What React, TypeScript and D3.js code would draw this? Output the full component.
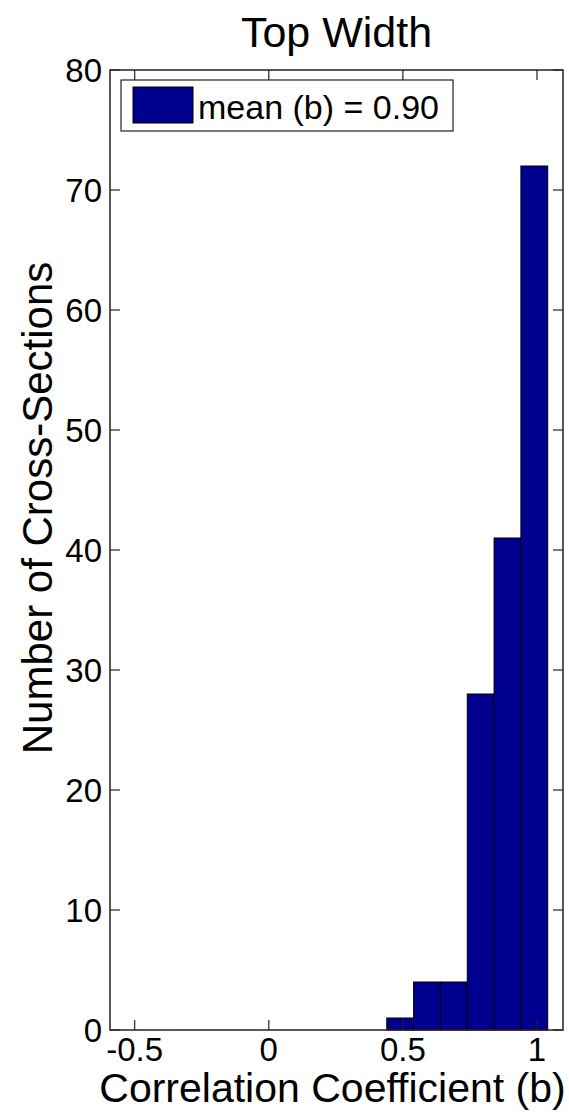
import React from 'react'
import * as d3 from 'd3'

// histogram of correlation coefficients
const binEdges = [0.44, 0.54, 0.64, 0.74, 0.84, 0.94, 1.04]
const counts = [1, 4, 4, 28, 41, 72]
const xTicks = [-0.5, 0, 0.5, 1]
const xTickLabels = ['-0.5', '0', '0.5', '1']
const yTicks = [0, 10, 20, 30, 40, 50, 60, 70, 80]
const xLimits = [-0.592, 1.097]
const yLimits = [0, 80]

const titleText = 'Top Width'
const xLabelText = 'Correlation Coefficient (b)'
const yLabelText = 'Number of Cross-Sections'
const legendText = 'mean (b) = 0.90'

const W = 569
const H = 1114
const left = 110
const right = 563
const top = 70
const bottom = 1030
const font = '"Liberation Sans", Arial, sans-serif'
const barFill = '#00008f'
const tickLen = 10

const App = () => {
  const x = d3.scaleLinear().domain(xLimits).range([left, right])
  const y = d3.scaleLinear().domain(yLimits).range([bottom, top])

  const bins = counts.map((c, i) => ({ x0: binEdges[i], x1: binEdges[i + 1], count: c }))

  return (
    <svg width={W} height={H} style={{ position: 'absolute', left: 0, top: 0, background: '#fff' }}>
      <rect x={0} y={0} width={W} height={H} fill='#fff' />

      {/* bars */}
      {bins.map((b, i) => (
        <rect key={i}
          x={x(b.x0)}
          y={y(b.count)}
          width={x(b.x1) - x(b.x0)}
          height={y(0) - y(b.count)}
          fill={barFill}
          stroke='#000'
          strokeWidth={1} />
      ))}

      {/* box */}
      <rect x={left} y={top} width={right - left} height={bottom - top}
        fill='none' stroke='#222' strokeWidth={1.5} />

      {/* x ticks */}
      {xTicks.map((t, i) => (
        <g key={'xt' + i}>
          <line x1={x(t)} x2={x(t)} y1={bottom} y2={bottom - tickLen} stroke='#222' strokeWidth={1.2} />
          <line x1={x(t)} x2={x(t)} y1={top} y2={top + tickLen} stroke='#222' strokeWidth={1.2} />
          <text x={x(t)} y={1061} textAnchor='middle' fontFamily={font} fontSize={33} fill='#000'>
            {xTickLabels[i]}
          </text>
        </g>
      ))}

      {/* y ticks */}
      {yTicks.map((t, i) => (
        <g key={'yt' + i}>
          <line x1={left} x2={left + tickLen} y1={y(t)} y2={y(t)} stroke='#222' strokeWidth={1.2} />
          <line x1={right} x2={right - tickLen} y1={y(t)} y2={y(t)} stroke='#222' strokeWidth={1.2} />
          <text x={left - 8} y={y(t)} dy='0.36em' textAnchor='end' fontFamily={font} fontSize={33} fill='#000'>
            {t}
          </text>
        </g>
      ))}

      {/* legend */}
      <rect x={121} y={80} width={332} height={51} fill='#fff' stroke='#222' strokeWidth={1.2} />
      <rect x={133} y={87} width={60} height={36} fill={barFill} stroke='#000' strokeWidth={1} />
      <text x={198} y={119} fontFamily={font} fontSize={34} fill='#000'>{legendText}</text>

      {/* titles */}
      <text x={(left + right) / 2} y={47} textAnchor='middle' fontFamily={font} fontSize={43} fill='#000'>
        {titleText}
      </text>
      <text x={(left + right) / 2 - 4} y={1102} textAnchor='middle' fontFamily={font} fontSize={41} fill='#000'>
        {xLabelText}
      </text>
      <text transform={`translate(52, 508) rotate(-90)`} textAnchor='middle'
        fontFamily={font} fontSize={42} fill='#000'>
        {yLabelText}
      </text>
    </svg>
  )
}

export default App
